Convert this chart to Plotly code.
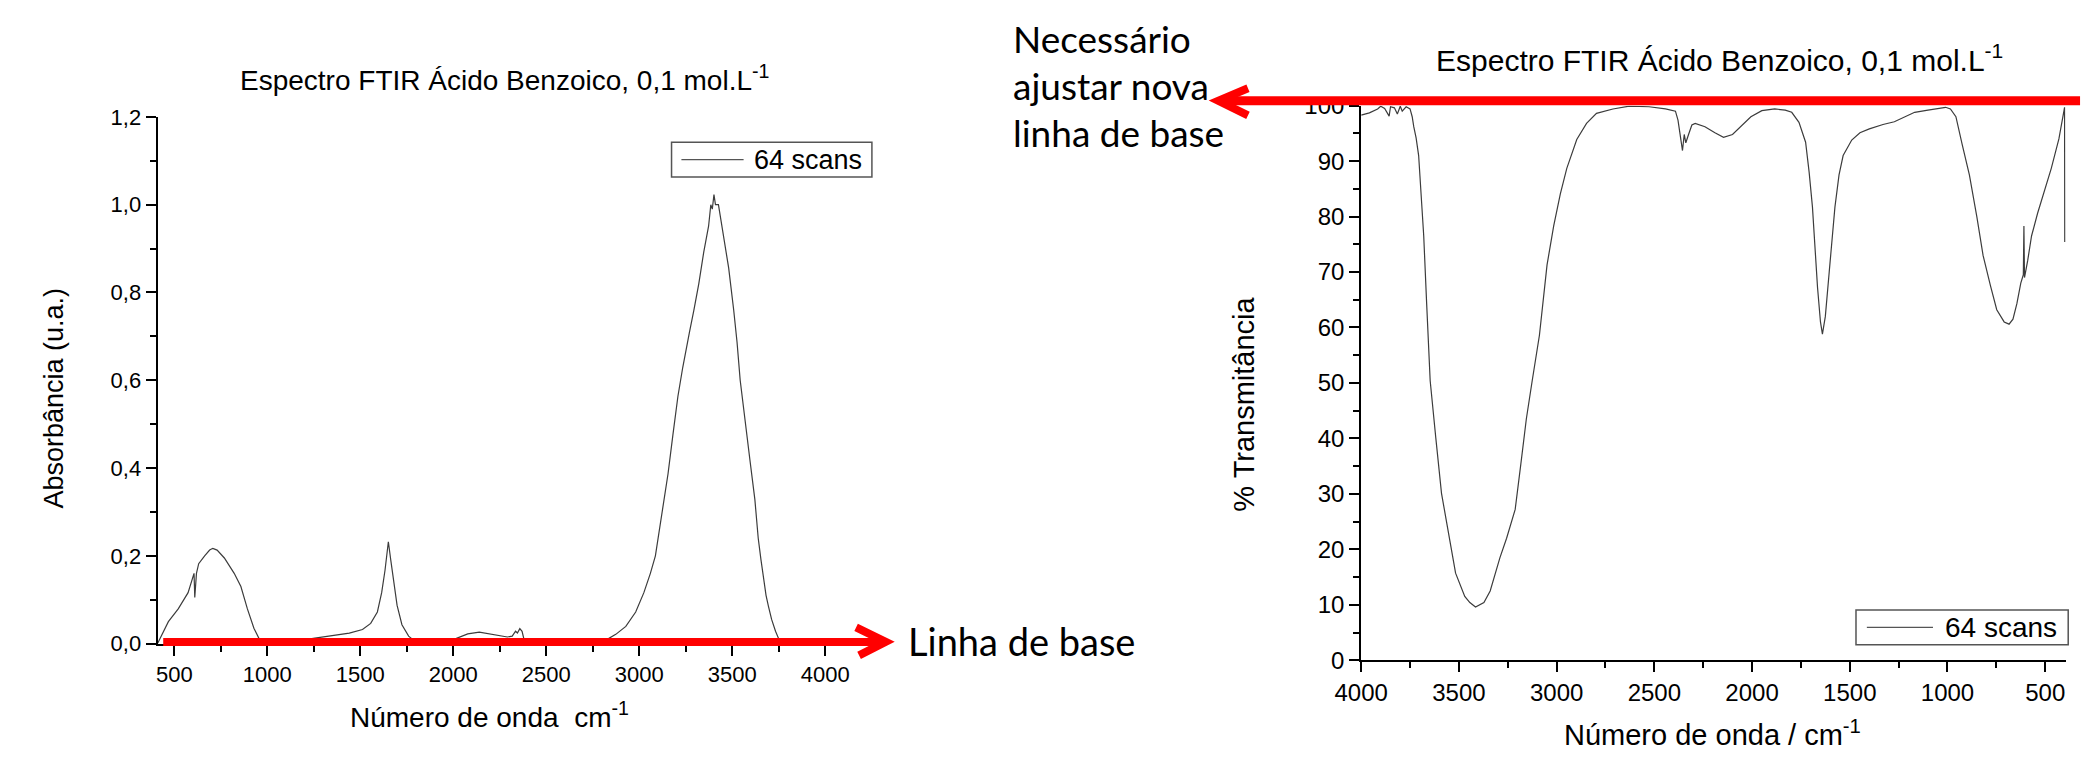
import plotly.graph_objects as go

# ---- Absorbance spectrum (left panel) ----
wn_abs = [410, 440, 468, 521, 574, 606, 610, 619, 631, 663, 690, 707, 730, 769, 800, 822,
          858, 893, 928, 955, 981, 1100, 1247, 1335, 1441, 1512, 1556, 1592, 1615, 1633,
          1651, 1664, 1680, 1698, 1724, 1760, 1795, 1900, 2007, 2078, 2140, 2202, 2291,
          2317, 2335, 2345, 2358, 2370, 2383, 2500, 2700, 2821, 2874, 2928, 2981, 3025,
          3060, 3087, 3102, 3128, 3155, 3181, 3208, 3234, 3258, 3270, 3294, 3320, 3347,
          3373, 3385, 3393, 3402, 3410, 3426, 3455, 3481, 3508, 3526, 3543, 3569, 3596,
          3622, 3640, 3655, 3668, 3682, 3695, 3712, 3733, 3751, 3780]
absorbance = [0.0, 0.025, 0.05, 0.079, 0.116, 0.16, 0.105, 0.16, 0.182, 0.200, 0.213, 0.217,
              0.213, 0.195, 0.175, 0.16, 0.13, 0.079, 0.035, 0.012, 0.002, 0.0, 0.012, 0.017,
              0.024, 0.032, 0.046, 0.072, 0.116, 0.167, 0.232, 0.19, 0.145, 0.087, 0.043,
              0.017, 0.005, 0.003, 0.01, 0.022, 0.026, 0.022, 0.015, 0.017, 0.028, 0.024,
              0.034, 0.028, 0.005, 0.0, 0.0, 0.008, 0.021, 0.039, 0.072, 0.116, 0.16, 0.2,
              0.24, 0.314, 0.387, 0.475, 0.563, 0.629, 0.687, 0.709, 0.76, 0.819, 0.892,
              0.951, 1.0, 0.99, 1.023, 1.0, 1.0, 0.929, 0.856, 0.76, 0.687, 0.6, 0.504,
              0.416, 0.328, 0.24, 0.19, 0.15, 0.11, 0.085, 0.055, 0.028, 0.01, 0.0]

# ---- Transmittance spectrum (right panel) ----
wn_trans = [4000, 3958, 3916, 3900, 3880, 3857, 3850, 3830, 3815, 3800, 3790, 3770, 3750,
            3739, 3731, 3719, 3706, 3692, 3680, 3665, 3647, 3618, 3589, 3566, 3517, 3470,
            3444, 3415, 3400, 3372, 3340, 3314, 3290, 3256, 3212, 3183, 3155, 3125, 3088,
            3049, 3015, 2981, 2948, 2897, 2847, 2796, 2712, 2628, 2527, 2443, 2392, 2379,
            2367, 2356, 2347, 2339, 2325, 2308, 2291, 2241, 2190, 2146, 2100, 2050, 2006,
            1950, 1884, 1830, 1797, 1760, 1726, 1708, 1691, 1665, 1650, 1640, 1625, 1605,
            1576, 1555, 1534, 1490, 1448, 1400, 1330, 1272, 1220, 1168, 1100, 1040, 1010,
            985, 957, 925, 888, 850, 818, 780, 748, 710, 685, 665, 645, 625, 612, 609, 606,
            590, 570, 539, 500, 469, 430, 401, 400]
transmittance = [98.3, 98.7, 99.4, 99.9, 99.5, 98.1, 99.8, 99.6, 98.5, 99.9, 99.0, 99.8,
                 99.4, 98.0, 96.2, 94.2, 91.0, 84.1, 76.5, 64.3, 50.4, 40.0, 30.1, 25.5,
                 15.7, 11.5, 10.4, 9.6, 9.9, 10.4, 12.5, 15.7, 18.5, 22.0, 27.2, 35.4, 43.5,
                 50.4, 58.6, 71.3, 78.3, 84.1, 88.7, 93.9, 96.8, 98.6, 99.4, 99.9, 99.8,
                 99.4, 99.0, 97.4, 94.5, 91.9, 94.8, 93.3, 94.8, 96.5, 96.8, 96.2, 95.1,
                 94.3, 94.8, 96.5, 98.0, 99.1, 99.4, 99.2, 98.8, 97.0, 93.4, 88.0, 81.7,
                 67.2, 61.0, 58.8, 62.0, 70.1, 81.7, 87.5, 91.0, 93.8, 95.1, 95.8, 96.6,
                 97.1, 98.0, 98.8, 99.2, 99.5, 99.7, 99.4, 98.0, 93.0, 87.5, 80.0, 73.0,
                 67.5, 63.2, 61.0, 60.6, 61.5, 64.3, 68.0, 69.5, 78.3, 69.0, 72.0, 76.5,
                 80.6, 85.0, 88.7, 94.0, 99.7, 75.4]

# ---- Tick values / labels ----
abs_x_ticks = [500, 1000, 1500, 2000, 2500, 3000, 3500, 4000]
abs_x_labels = ["500", "1000", "1500", "2000", "2500", "3000", "3500", "4000"]
abs_y_ticks = [0.0, 0.2, 0.4, 0.6, 0.8, 1.0, 1.2]
abs_y_labels = ["0,0", "0,2", "0,4", "0,6", "0,8", "1,0", "1,2"]
tr_x_ticks = [4000, 3500, 3000, 2500, 2000, 1500, 1000, 500]
tr_x_labels = ["4000", "3500", "3000", "2500", "2000", "1500", "1000", "500"]
tr_y_ticks = [0, 10, 20, 30, 40, 50, 60, 70, 80, 90, 100]
tr_y_labels = ["0", "10", "20", "30", "40", "50", "60", "70", "80", "90", "100"]

W, H = 2084, 762
ARIAL = "Liberation Sans, Arial, sans-serif"
CALIBRI = "Lato, Carlito, Calibri, sans-serif"
RED = "#ff0000"
CURVE = "#3c3c3c"


def px(x, y):
    """Pixel position -> paper fraction."""
    return x / W, 1 - y / H


fig = go.Figure()
fig.add_trace(go.Scatter(x=wn_abs, y=absorbance, mode="lines", name="64 scans",
                         line=dict(color=CURVE, width=1.2), xaxis="x", yaxis="y",
                         showlegend=False))
fig.add_trace(go.Scatter(x=wn_trans, y=transmittance, mode="lines", name="64 scans",
                         line=dict(color=CURVE, width=1.2), xaxis="x2", yaxis="y2",
                         showlegend=False))

axis_common = dict(showline=True, linecolor="black", linewidth=2, ticks="outside",
                   ticklen=10, tickwidth=2, tickcolor="black", showgrid=False,
                   zeroline=False, mirror=False)

fig.update_layout(
    width=W, height=H, margin=dict(l=0, r=0, t=0, b=0),
    paper_bgcolor="white", plot_bgcolor="white",
    font=dict(family=ARIAL, color="black"),
    xaxis=dict(domain=[132.3 / W, 861.4 / W], range=[410, 4280], anchor="y",
               tickmode="array", tickvals=abs_x_ticks, ticktext=abs_x_labels,
               tickfont=dict(size=22),
               minor=dict(ticks="outside", ticklen=6, tickwidth=2, tickcolor="black",
                          tickmode="array", tickvals=[t + 250 for t in abs_x_ticks]),
               **axis_common),
    yaxis=dict(domain=[1 - 652.7 / H, 1 - 106.7 / H], range=[0, 1.2], anchor="x",
               tickmode="array", tickvals=abs_y_ticks, ticktext=abs_y_labels,
               tickfont=dict(size=22),
               minor=dict(ticks="outside", ticklen=6, tickwidth=2, tickcolor="black",
                          tickmode="array", tickvals=[t + 0.1 for t in abs_y_ticks[:-1]]),
               **axis_common),
    xaxis2=dict(domain=[1351.7 / W, 2065.5 / W], range=[4000, 395], anchor="y2",
                tickmode="array", tickvals=tr_x_ticks, ticktext=tr_x_labels,
                tickfont=dict(size=24),
                minor=dict(ticks="outside", ticklen=6, tickwidth=2, tickcolor="black",
                           tickmode="array", tickvals=[t - 250 for t in tr_x_ticks]),
                **axis_common),
    yaxis2=dict(domain=[1 - 670 / H, 1 - 95 / H], range=[0, 100], anchor="x2",
                tickmode="array", tickvals=tr_y_ticks, ticktext=tr_y_labels,
                tickfont=dict(size=24),
                minor=dict(ticks="outside", ticklen=6, tickwidth=2, tickcolor="black",
                           tickmode="array", tickvals=[t + 5 for t in tr_y_ticks[:-1]]),
                **axis_common),
)

annotations = []


def text(s, x, y, size, family=ARIAL, xanchor="center", angle=0):
    fx, fy = px(x, y)
    annotations.append(dict(text=s, x=fx, y=fy, xref="paper", yref="paper",
                            xanchor=xanchor, yanchor="middle", showarrow=False,
                            textangle=angle, font=dict(size=size, family=family,
                                                       color="black")))


# titles
text("Espectro FTIR Ácido Benzoico, 0,1 mol.L<sup>-1</sup>", 484, 66, 28)
text("Espectro FTIR Ácido Benzoico, 0,1 mol.L<sup>-1</sup>", 1715, 46, 30)
# axis titles
text("Número de onda  cm<sup>-1</sup>", 469, 727, 28)
text("Número de onda / cm<sup>-1</sup>", 1708, 745, 29)
text("Absorbância (u.a.)", 27, 398, 27, angle=-90)
text("% Transmitância", 1233, 405, 29, angle=-90)

# legend boxes
shapes = []


def rect(x0, y0, x1, y1):
    a, b = px(x0, y0)
    c, d = px(x1, y1)
    shapes.append(dict(type="rect", xref="paper", yref="paper", x0=a, y0=b, x1=c, y1=d,
                       line=dict(color="#555555", width=1.5), fillcolor="white"))


def seg(x0, y0, x1, y1, color, width):
    a, b = px(x0, y0)
    c, d = px(x1, y1)
    shapes.append(dict(type="line", xref="paper", yref="paper", x0=a, y0=b, x1=c, y1=d,
                       line=dict(color=color, width=width)))


def chevron(points, color, width):
    path = "M " + " L ".join(f"{x / W:.5f},{1 - y / H:.5f}" for x, y in points)
    shapes.append(dict(type="path", xref="paper", yref="paper", path=path,
                       line=dict(color=color, width=width)))


rect(653, 133, 856, 169)
seg(663, 151, 726, 151, "#555555", 1.3)
text("64 scans", 735, 151, 27, xanchor="left")

rect(1853, 618, 2068, 654)
seg(1864, 636, 1931, 636, "#555555", 1.3)
text("64 scans", 1941, 636, 28, xanchor="left")

# baseline arrows
seg(138, 651, 866, 651, RED, 8)
chevron([(840, 636), (870, 651), (843, 665)], RED, 8)
text("Linha de base", 891, 650, 38, family=CALIBRI, xanchor="left")

seg(1212, 90, 2080, 90, RED, 9)
chevron([(1237, 77), (1207, 90), (1237, 105)], RED, 8)
text("Necessário", 997, 25, 37, family=CALIBRI, xanchor="left")
text("ajustar nova", 997, 74, 37, family=CALIBRI, xanchor="left")
text("linha de base", 997, 123, 37, family=CALIBRI, xanchor="left")

fig.update_layout(annotations=annotations, shapes=shapes)

fig.write_html("out.html", config={"displayModeBar": False},
               post_script="document.body.style.margin='0';")
